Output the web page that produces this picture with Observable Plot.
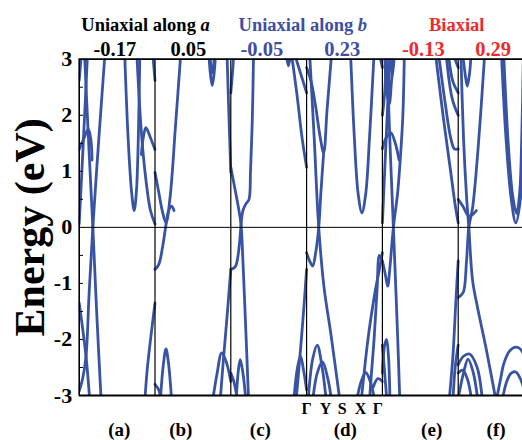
<!DOCTYPE html>
<html><head><meta charset="utf-8">
<script src="https://cdn.jsdelivr.net/npm/d3@7"></script>
<script src="https://cdn.jsdelivr.net/npm/@observablehq/plot@0.6"></script>
<style>body{margin:0;background:#fff}</style>
</head><body><div id="chart"></div>
<script>
// Band lines per panel: each band is a list of [k (0..1 along Γ-Y-S-X-Γ), energy eV]
const bandsA = [
  [[0,0.06],[0.05,1.4],[0.11,3.1]],
  [[0,2.62],[0.03,3.1]],
  [[0,1.39],[0.06,1.58],[0.12,1.75],[0.155,1.55],[0.17,1.2]],
  [[0.07,3.1],[0.125,1.5],[0.18,0],[0.23,-1.5],[0.29,-3.1]],
  [[0.34,3.1],[0.26,1.6],[0.18,0],[0.13,-1.2],[0.09,-2.3],[0.045,-2.7],[0,-2.92]],
  [[0,-1.35],[0.04,-1.75],[0.09,-2.3],[0.12,-2.75],[0.14,-3.1]],
  [[0.6,3.1],[0.645,1.6],[0.69,0.65],[0.725,0.3],[0.755,0.65],[0.78,1.6],[0.8,3.1]],
  [[0.76,3.1],[0.82,1.7],[0.88,0.85],[0.94,0.3],[1,0.06]],
  [[1,1.39],[0.94,1.6],[0.88,1.78],[0.845,1.6],[0.82,1.3]],
  [[1,2.62],[0.97,3.1]],
  [[1,-1.35],[0.95,-1.9],[0.9,-2.5],[0.865,-3.1]]
];
const bandsB = [
  [[0,-0.75],[0.05,-0.66],[0.1,-0.35],[0.14,0],[0.18,0.3],[0.22,0.38],[0.25,0.3]],
  [[0,0.98],[0.05,0.62],[0.1,0.27],[0.145,0.08],[0.2,0.55],[0.27,1.8],[0.34,3.1]],
  [[1,0.98],[0.975,2],[0.95,3.1]],
  [[0.71,3.1],[0.73,2.75],[0.755,2.53],[0.78,2.75],[0.8,3.1]],
  [[0.725,3.1],[0.74,2.85],[0.755,2.75],[0.77,2.85],[0.785,3.1]],
  [[1,-0.75],[0.95,-1.6],[0.9,-2.4],[0.86,-3.1]],
  [[0.76,-3.1],[0.82,-2.6],[0.88,-2.24],[0.94,-2.4],[1,-2.75]],
  [[0,-2.8],[0.05,-2.9],[0.08,-3.1]],
  [[0.07,-3.1],[0.11,-2.45],[0.145,-2.17],[0.18,-2.45],[0.22,-3.1]]
];
const bandsC = [
  [[0,1.07],[0.05,0.72],[0.1,0.36],[0.135,0.05],[0.16,-0.6],[0.2,-1.9],[0.235,-3.1]],
  [[0,-0.75],[0.06,-0.7],[0.11,-0.35],[0.135,0.05],[0.16,0.3],[0.2,0.42],[0.24,0.5],[0.26,1.0],[0.285,2.0],[0.3,3.1]],
  [[0,2.4],[0.025,2.8],[0.04,3.1]],
  [[0.73,3.1],[0.76,2.88],[0.79,3.1]],
  [[0.8,3.1],[0.87,2.4],[0.94,1.6],[1,1.07]],
  [[0.84,3.1],[0.92,2.75],[1,2.4]],
  [[1,-0.75],[0.96,-1.5],[0.9,-2.5],[0.86,-3.1]],
  [[0.83,-3.1],[0.88,-2.5],[0.92,-2.3],[0.96,-2.55],[1,-2.9]],
  [[0.07,-3.1],[0.1,-2.55],[0.125,-2.36],[0.16,-2.6],[0.2,-3.1]],
  [[0,-2.6],[0.04,-2.75],[0.09,-3.1]]
];
const bandsD = [
  [[0,2.85],[0.06,2.6],[0.12,2.15],[0.18,1.6],[0.225,1.33],[0.27,2.1],[0.33,3.1]],
  [[0.04,3.1],[0.1,1.6],[0.16,0],[0.23,-1.07],[0.32,-1.9],[0.44,-3.1]],
  [[0,-0.45],[0.04,-0.6],[0.08,-0.69],[0.12,-0.45],[0.16,0],[0.19,0.65],[0.225,1.33]],
  [[0.02,-3.1],[0.08,-2.35],[0.14,-2.1],[0.2,-2.45],[0.26,-3.1]],
  [[0.08,-3.1],[0.14,-2.6],[0.21,-2.4],[0.28,-2.7],[0.33,-3.1]],
  [[0.58,3.1],[0.63,1.6],[0.68,0.6],[0.73,0.26],[0.78,0.6],[0.83,1.6],[0.89,3.1]],
  [[1,2.85],[0.96,3.1]],
  [[1,-0.45],[0.96,-0.75],[0.91,-1.1],[0.85,-1.6],[0.8,-2.1],[0.72,-3.1]],
  [[1,-0.62],[0.96,-0.5],[0.93,-1.1],[0.89,-2.0],[0.85,-2.7],[0.83,-3.1]],
  [[0.66,-3.1],[0.72,-2.75],[0.78,-2.59],[0.84,-2.75],[0.9,-3.1]],
  [[0.88,-2.85],[0.94,-2.7],[1,-2.75]]
];
const bandsE = [
  [[0,-0.6],[0.04,-0.85],[0.07,-1.05],[0.1,-0.7],[0.145,0],[0.2,0.6],[0.24,1.3],[0.27,2.0],[0.29,3.1]],
  [[0,0.08],[0.03,1.0],[0.07,2.2],[0.1,3.1]],
  [[0.06,3.1],[0.1,1.5],[0.145,0],[0.18,-1.2],[0.205,-2.1],[0.23,-3.1]],
  [[0,1.4],[0.05,1.6],[0.11,1.69],[0.17,1.5],[0.22,1.2]],
  [[0,2.0],[0.03,2.4],[0.05,3.1]],
  [[0.03,3.1],[0.06,2.4],[0.09,2.2],[0.12,2.6],[0.15,3.1]],
  [[0.1,3.1],[0.13,2.7],[0.16,3.1]],
  [[0,-2.1],[0.03,-2.6],[0.06,-3.1]],
  [[0,-2.6],[0.03,-2.1],[0.055,-2.0],[0.08,-2.3],[0.1,-3.1]],
  [[0.7,3.1],[0.8,2.0],[0.9,1.0],[0.96,0.4],[1,0.08]],
  [[0.74,3.1],[0.83,2.2],[0.9,1.6],[0.95,1.4],[1,1.4]],
  [[0.84,3.1],[0.92,2.3],[1,2.0]],
  [[0.87,3.1],[0.93,2.6],[1,2.4]],
  [[0.93,3.1],[1,2.85]],
  [[1,-0.6],[0.97,-1.3],[0.93,-2.3],[0.88,-3.1]],
  [[1,-2.1],[0.96,-2.5],[0.93,-3.1]]
];
const bandsF = [
  [[0.06,3.1],[0.09,2.75],[0.12,2.52],[0.15,2.75],[0.17,3.1]],
  [[0.035,3.1],[0.07,1.6],[0.11,0.55],[0.14,0],[0.19,-0.95],[0.255,-1.43],[0.365,-2.14],[0.5,-3.1]],
  [[0,0.5],[0.06,0.38],[0.14,0.2],[0.2,0.24],[0.24,0.3]],
  [[0.35,3.1],[0.3,2.1],[0.25,1.2],[0.19,0.35],[0.14,0],[0.11,-0.6],[0.07,-1.15],[0.03,-1.22],[0,-1.25]],
  [[0.57,3.1],[0.63,1.6],[0.7,0.5],[0.76,0.08],[0.82,0.5],[0.86,1.8],[0.88,3.1]],
  [[0.6,3.1],[0.66,1.5],[0.72,0.55],[0.77,0.25],[0.81,0.6],[0.84,1.7],[0.86,3.1]],
  [[0,-2.45],[0.07,-2.3],[0.15,-2.26],[0.25,-2.5],[0.32,-3.1]],
  [[0,-3.05],[0.07,-2.6],[0.13,-2.35],[0.2,-2.6],[0.26,-3.1]],
  [[0,-2.6],[0.06,-2.55],[0.12,-2.7],[0.18,-3.1]],
  [[0.5,-3.1],[0.56,-2.7],[0.6,-2.44],[0.67,-2.22],[0.74,-2.14],[0.8,-2.15],[0.86,-2.25]],
  [[0.58,-3.1],[0.64,-2.75],[0.7,-2.6],[0.76,-2.58],[0.82,-2.7],[0.86,-2.85]]
];
const panelBands = [bandsA, bandsB, bandsC, bandsD, bandsE, bandsF];

const panelSeparators = [1, 2, 3, 4, 5];
const yTicks = [-3, -2, -1, 0, 1, 2, 3];
const yMinorTicks = [-2.5, -2, -1.5, -1, -0.5, 0.5, 1, 1.5, 2, 2.5];

const strainTitles = ["Uniaxial along a", "Uniaxial along b", "Biaxial"];
const strainTitlePos = [0.875, 2.95, 4.98];
const groupColors = ["#000000", "#3d4ea3", "#ee2b2b"];
const strainValues = ["-0.17", "0.05", "-0.05", "0.23", "-0.13", "0.29"];
const strainValuePos = [0.47, 1.44, 2.41, 3.47, 4.54, 5.46];
const panelLabels = ["(a)", "(b)", "(c)", "(d)", "(e)", "(f)"];
const panelLabelPos = [0.53, 1.34, 2.39, 3.51, 4.65, 5.5];
const kLabels = ["Γ", "Y", "S", "X", "Γ"];
const kLabelPos = [3.0, 3.25, 3.47, 3.71, 3.94];

const rows = [];
panelBands.forEach((bands, p) => bands.forEach((band, b) =>
  band.forEach(([k, e]) => rows.push({band: p + "-" + b, x: p + k, y: e}))));

const titles = strainTitles.map((t, i) => ({text: t, x: strainTitlePos[i], color: groupColors[i]}));
const values = strainValues.map((t, i) => ({text: t, x: strainValuePos[i], color: groupColors[Math.floor(i / 2)]}));
const plabels = panelLabels.map((t, i) => ({text: t, x: panelLabelPos[i]}));
const klabels = kLabels.map((t, i) => ({text: t, x: kLabelPos[i]}));

const serif = "'Liberation Serif','Times New Roman',serif";
const plot = Plot.plot({
  width: 522, height: 440,
  marginLeft: 78.7, marginRight: 0, marginTop: 58.7, marginBottom: 45,
  x: {domain: [0, 6], range: [78.7, 533.5], axis: null},
  y: {domain: [-3, 3], range: [395, 58.7]},
  style: {fontFamily: serif, fontWeight: "bold", background: "#fff", color: "#000"},
  marks: [
    Plot.line(rows, {x: "x", y: "y", z: "band", stroke: "#3953a4", strokeWidth: 2.8,
      curve: "catmull-rom", strokeLinejoin: "round", clip: true}),
    Plot.ruleY([0], {stroke: "#000", strokeWidth: 1}),
    Plot.ruleX(panelSeparators, {stroke: "#000", strokeWidth: 1.2}),
    Plot.ruleX([0], {stroke: "#000", strokeWidth: 1.6}),
    Plot.ruleY([-3, 3], {stroke: "#000", strokeWidth: 1.8}),
    Plot.link(yMinorTicks, {x1: 0, x2: 0.05, y1: d => d, y2: d => d, stroke: "#000", strokeWidth: 1}),
    Plot.axisY({ticks: yTicks, tickSize: 0, tickPadding: 7, fontSize: 22, label: null,
      tickFormat: d => String(d)}),
    Plot.text(["Energy (eV)"], {x: -0.643, y: 0, text: d => d, rotate: -90, fontSize: 42, fill: "#000"}),
    Plot.text(titles, {x: "x", y: 3.617, text: "text", fill: "color", fontSize: 18.5}),
    Plot.text(values, {x: "x", y: 3.18, text: "text", fill: "color", fontSize: 20.5}),
    Plot.text(klabels, {x: "x", y: -3.24, text: "text", fill: "#000", fontSize: 16}),
    Plot.text(plabels, {x: "x", y: -3.62, text: "text", fill: "#000", fontSize: 19})
  ]
});
// italicise the strain direction letter
plot.querySelectorAll("text").forEach(el => {
  const t = el.textContent;
  if (t === "Uniaxial along a" || t === "Uniaxial along b") {
    el.textContent = "Uniaxial along ";
    const ts = document.createElementNS("http://www.w3.org/2000/svg", "tspan");
    ts.setAttribute("font-style", "italic");
    ts.textContent = t.slice(-1);
    el.appendChild(ts);
  }
});
document.getElementById("chart").appendChild(plot);
</script>
</body></html>
